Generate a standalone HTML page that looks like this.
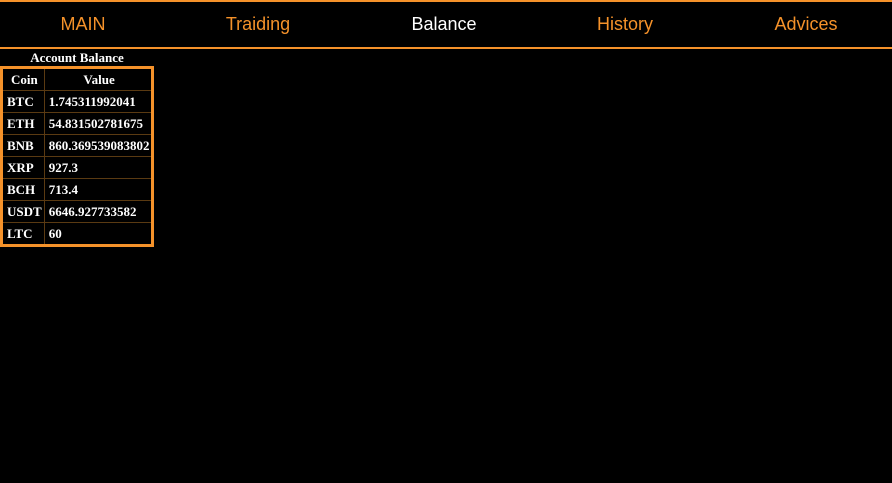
<!DOCTYPE html>
<html><head><meta charset="utf-8"><style>
body{margin:0;width:892px;height:483px;background:#000;overflow:hidden;position:relative;font-family:"Liberation Sans",sans-serif}
.nav{position:absolute;left:0;top:0;width:892px;height:45px;border-top:2px solid #f5922a;border-bottom:2px solid #f5922a}
.nav span{position:absolute;top:12px;font-size:18px;color:#f5922a;transform:translateX(-50%);white-space:nowrap}
.nav span.act{color:#fff}
.title{position:absolute;left:0;top:50px;width:154px;text-align:center;font:bold 13px "Liberation Serif",serif;color:#fff}
table{position:absolute;left:0;top:66px;border:3px solid #f5922a;border-collapse:collapse;font:bold 13px "Liberation Serif",serif;color:#fff}
td,th{border:1px solid #5a3a12;height:21px;padding:0 2px 0 4px;text-align:left}
th{text-align:center}
</style></head><body>
<div class="nav">
<span style="left:83px">MAIN</span>
<span style="left:258px">Traiding</span>
<span class="act" style="left:444px">Balance</span>
<span style="left:625px">History</span>
<span style="left:806px">Advices</span>
</div>
<div class="title">Account Balance</div>
<table>
<tr><th style="width:33px">Coin</th><th style="width:100px">Value</th></tr>
<tr><td>BTC</td><td>1.745311992041</td></tr>
<tr><td>ETH</td><td>54.831502781675</td></tr>
<tr><td>BNB</td><td>860.369539083802</td></tr>
<tr><td>XRP</td><td>927.3</td></tr>
<tr><td>BCH</td><td>713.4</td></tr>
<tr><td>USDT</td><td>6646.927733582</td></tr>
<tr><td>LTC</td><td>60</td></tr>
</table>
</body></html>
